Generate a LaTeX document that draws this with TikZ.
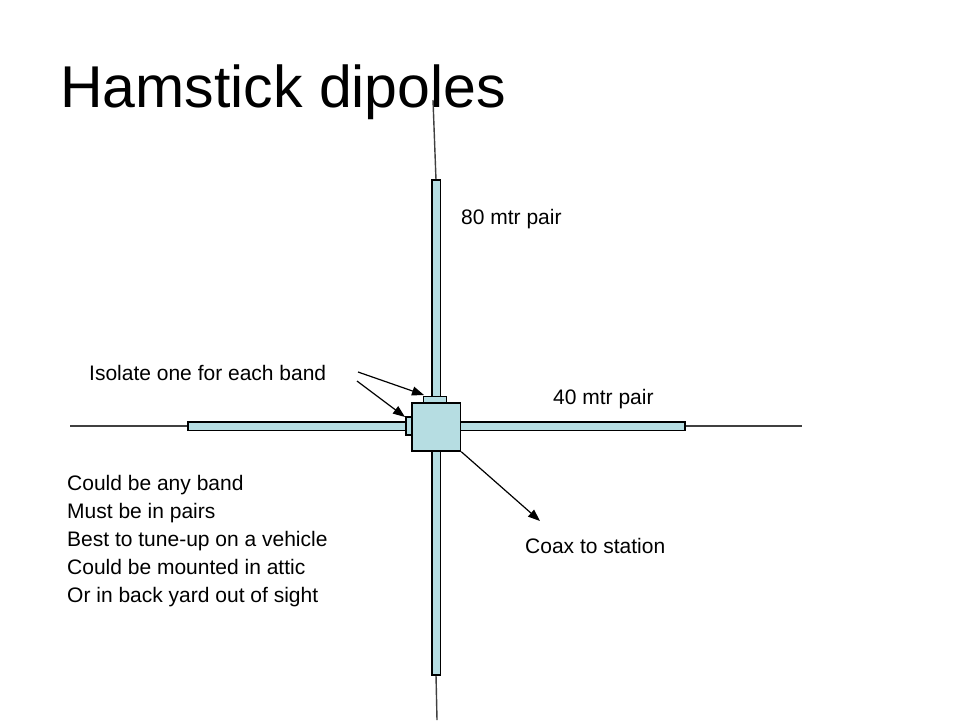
\documentclass[tikz,border=0pt]{standalone}
\usepackage{fontspec}
\setmainfont{Liberation Sans}
\usetikzlibrary{arrows.meta}
\begin{document}
\begin{tikzpicture}[x=1pt,y=-1pt,
  rodfill/.style={fill={rgb,255:red,182;green,221;blue,226},draw=black,line width=1.4pt},
  wire/.style={draw=black!75,line width=1.4pt},
  lbl/.style={font=\fontsize{21}{25}\selectfont,anchor=west,inner sep=0},
  arr/.style={draw=black,line width=1.2pt,-{Triangle[length=12pt,width=9pt]}}]
\useasboundingbox (0,0) rectangle (960,720);
% wires
\coordinate (wt) at (433,100);
\coordinate (wb) at (437,720);
\coordinate (wl) at (70,426);
\coordinate (wr) at (802,426);
\draw[wire] (wt) -- (436,180);
\draw[wire] (436,675) -- (wb);
\draw[wire] (wl) -- (188,426);
\draw[wire] (685,426) -- (wr);
\node[anchor=west,inner sep=0,font=\fontsize{59}{70}\selectfont] (title) at (60,92) {Hamstick dipoles};
% rods
\path[rodfill] (188,422) rectangle (685,430.5);
\path[rodfill] (432,180) rectangle (440.5,675);
\path[rodfill] (423.7,396.7) rectangle (446.7,403);
\path[rodfill] (406,417) rectangle (412,435);
\node[rodfill,minimum width=48.5pt,minimum height=48pt,inner sep=0] (box) at (436.3,427) {};
% labels
\node[lbl] (l80) at (461,219) {80 mtr pair};
\node[lbl] (l40) at (553,399) {40 mtr pair};
\node[lbl] (iso) at (89,373) {Isolate one for each band};
\node[lbl] (coax) at (525,546) {Coax to station};
\node[lbl,align=left,font=\fontsize{21}{27.8}\selectfont,anchor=west] (list) at (67,541) {Could be any band\\Must be in pairs\\Best to tune-up on a vehicle\\Could be mounted in attic\\Or in back yard out of sight};
\coordinate (a1) at (424,395);
\coordinate (a2) at (405,417);
\draw[arr] (358,372) -- (a1);
\draw[arr] (357,381) -- (a2);
\coordinate (c1) at (540,521);
\draw[arr] (box.south east) -- (c1);
\end{tikzpicture}
\end{document}
